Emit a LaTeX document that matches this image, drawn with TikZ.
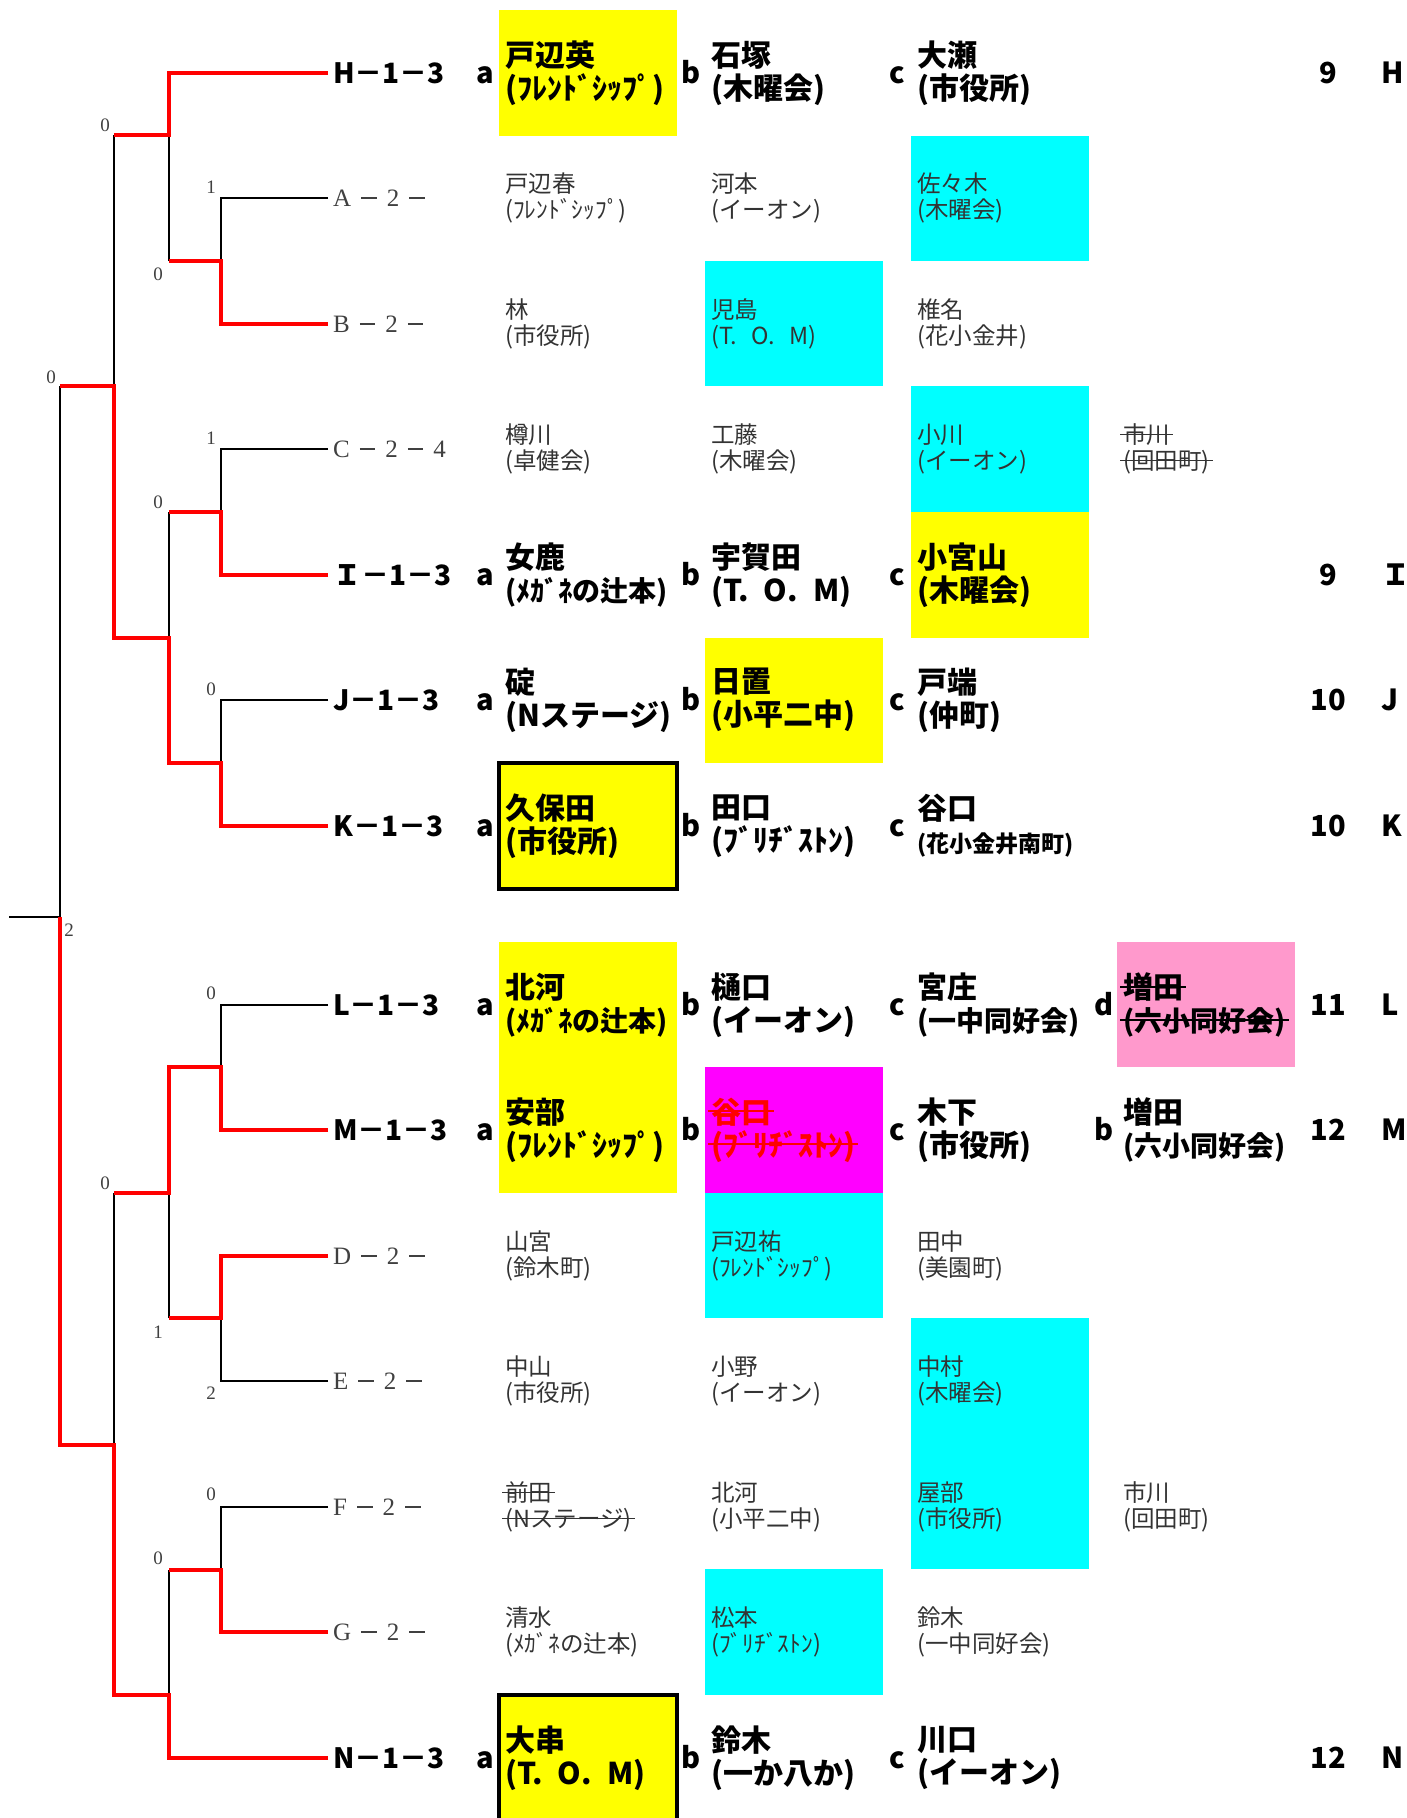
\documentclass[tikz,border=0pt]{standalone}
\usepackage{fontspec}
\setmainfont{Noto Sans CJK JP}
\newfontfamily\minfont{Liberation Serif}
\usepackage{xcolor}
\definecolor{yellowcell}{HTML}{FFFF00}
\definecolor{cyancell}{HTML}{00FFFF}
\definecolor{pinkcell}{HTML}{FF99CC}
\definecolor{magentacell}{HTML}{FF00FF}
\definecolor{winred}{HTML}{FF0000}
\newcommand\gap{\hspace{0.4em}}
\newcommand\dsh{\rule[0.3em]{0.62em}{1.2pt}}
\newcommand\tom[1]{(T.\hspace{#1}O.\hspace{#1}M)}
\newcommand\sm[1]{{\fontsize{28}{33}\selectfont #1}}
\newcommand\strike[2][1.5pt]{\setbox0=\hbox{#2}\rlap{\kern-3pt\rule[0.36em]{\dimexpr\wd0+6pt\relax}{#1}}\box0}
\tikzset{
  win/.style={draw=winred, line width=4.5pt},
  lose/.style={draw=black, line width=1.8pt},
  leafbold/.style={anchor=west, inner xsep=5pt, inner ysep=0pt, text height=20pt, text depth=0pt, font=\bfseries\fontsize{28}{30}\selectfont},
  leafthin/.style={anchor=west, inner xsep=5pt, inner ysep=0pt, text height=16pt, text depth=0pt, text=black!75, font=\minfont\fontsize{25}{27}\selectfont},
  bname/.style={anchor=west, align=left, inner sep=0pt, font=\bfseries\fontsize{30}{33}\selectfont},
  tname/.style={anchor=west, align=left, inner sep=0pt, text=black!80, font=\fontsize{23.5}{26}\selectfont},
  tag/.style={inner sep=0pt, text height=20pt, text depth=0pt, font=\bfseries\fontsize{29}{30}\selectfont},
  score/.style={inner sep=0pt, text=black!75, font=\minfont\fontsize{19}{20}\selectfont},
}
\begin{document}
\begin{tikzpicture}[x=1pt, y=-1pt]
\useasboundingbox (0,0) rectangle (1407,1818);
% coloured cells
\foreach \cc/\xa/\ya/\xb/\yb in {yellowcell/499/10/677/136, cyancell/911/136/1089/261, cyancell/705/261/883/386,
    cyancell/911/386/1089/512, yellowcell/911/512/1089/638, yellowcell/705/638/883/763, yellowcell/499/942/677/1193,
    pinkcell/1117/942/1295/1067, magentacell/705/1067/883/1193, cyancell/705/1193/883/1318,
    cyancell/911/1318/1089/1569, cyancell/705/1569/883/1695}
  \fill[\cc] (\xa,\ya) rectangle (\xb,\yb);
\draw[fill=yellowcell, line width=4pt] (499,763) rectangle (677,889);
\draw[fill=yellowcell, line width=4pt] (499,1695) rectangle (677,1821);

% leaves
\foreach \rw/\yy/\lb in {H/73/H, I/575/Ｉ, J/700/J, K/826/K, L/1005/L, M/1130/M, N/1758/N}
  \node[leafbold] (lab\rw) at (328,\yy) {{\lb}－1－3};
\foreach \rw/\yy/\lb in {A/198/A, B/324/B, D/1256/D, E/1381/E, F/1507/F, G/1632/G}
  \node[leafthin] (lab\rw) at (328,\yy) {\lb\gap\dsh\gap2\gap\dsh};
\node[leafthin] (labC) at (328,449) {C\gap\dsh\gap2\gap\dsh\gap4};

% junctions
\coordinate (jab) at (221,261);
\coordinate (jhab) at (169,135);
\coordinate (jtop) at (114,386);
\coordinate (jci) at (221,512);
\coordinate (jjk) at (221,763);
\coordinate (jcijk) at (169,638);
\coordinate (root) at (60,917);
\coordinate (rootend) at (9,917);
\coordinate (jlm) at (221,1067);
\coordinate (jde) at (221,1318);
\coordinate (jlmde) at (169,1193);
\coordinate (jfg) at (221,1570);
\coordinate (jfgn) at (169,1695);
\coordinate (jbot) at (114,1445);

\draw[lose] (labA.west) -| (jab);
\draw[lose] (jab -| jhab) -- (jhab);
\draw[lose] (jhab -| jtop) -- (jtop);
\draw[lose] (jtop -| root) -- (root) -- (rootend);
\draw[lose] (labC.west) -| (jci);
\draw[lose] (jci -| jcijk) -- (jcijk);
\draw[lose] (labJ.west) -| (jjk);
\draw[lose] (labL.west) -| (jlm);
\draw[lose] (labE.west) -| (jde);
\draw[lose] (jde -| jlmde) -- (jlmde);
\draw[lose] (jlmde -| jbot) -- (jbot);
\draw[lose] (labF.west) -| (jfg);
\draw[lose] (jfg -| jfgn) -- (jfgn);

\draw[win] (labB.west) -| (jab) -- (jab -| jhab);
\draw[win] (labH.west) -| (jhab) -- (jhab -| jtop);
\draw[win] (labI.west) -| (jci) -- (jci -| jcijk);
\draw[win] (labK.west) -| (jjk) -| (jcijk) -| (jtop) -- (jtop -| root);
\draw[win] (labM.west) -| (jlm) -| (jlmde) -- (jlmde -| jbot);
\draw[win] (labD.west) -| (jde) -- (jde -| jlmde);
\draw[win] (labG.west) -| (jfg) -- (jfg -| jfgn);
\draw[win] (labN.west) -| (jfgn) -| (jbot) -| (root);

\foreach \xx/\yy/\ss [count=\i] in {105/125/0, 211/187/1, 158/274/0, 51/377/0, 211/438/1, 158/502/0, 211/689/0,
    69/930/2, 211/993/0, 105/1183/0, 158/1332/1, 211/1393/2, 211/1494/0, 158/1558/0}
  \node[score] (sc\i) at (\xx,\yy) {\ss};

% a b c letters, games and courts
\foreach \rw/\yy in {H/73, I/575, J/700, K/826, L/1005, M/1130, N/1758} {
  \node[tag] (ta\rw) at (485,\yy) {a};
  \node[tag] (tb\rw) at (691,\yy) {b};
  \node[tag] (tc\rw) at (897,\yy) {c};
}
\node[tag] (tdL) at (1104,1005) {d};
\node[tag] (tdM) at (1104,1130) {b};
\foreach \rw/\yy/\nn/\lb in {H/73/9/H, I/575/9/Ｉ, J/700/10/J, K/826/10/K, L/1005/11/L, M/1130/12/M, N/1758/12/N} {
  \node[tag] (no\rw) at (1328,\yy) {\nn};
  \node[tag, anchor=west] (id\rw) at (1381,\yy) {\lb};
}

% row H
\node[bname] (aH) at (505,73) {戸辺英\\(ﾌﾚﾝﾄﾞｼｯﾌﾟ)};
\node[bname] (bH) at (711,73) {石塚\\(木曜会)};
\node[bname] (cH) at (917,73) {大瀬\\(市役所)};
% row A
\node[tname] (aA) at (505,198) {戸辺春\\(ﾌﾚﾝﾄﾞｼｯﾌﾟ)};
\node[tname] (bA) at (711,198) {河本\\(イーオン)};
\node[tname] (cA) at (917,198) {佐々木\\(木曜会)};
% row B
\node[tname] (aB) at (505,324) {林\\(市役所)};
\node[tname] (bB) at (711,324) {児島\\\tom{0.6em}};
\node[tname] (cB) at (917,324) {椎名\\(花小金井)};
% row C
\node[tname] (aC) at (505,449) {樽川\\(卓健会)};
\node[tname] (bC) at (711,449) {工藤\\(木曜会)};
\node[tname] (cC) at (917,449) {小川\\(イーオン)};
\node[tname] (dC) at (1123,449) {\strike{市川}\\\strike{(回田町)}};
% row I
\node[bname] (aI) at (505,575) {女鹿\\\sm{(ﾒｶﾞﾈの辻本)}};
\node[bname] (bI) at (711,575) {宇賀田\\\tom{0.5em}};
\node[bname] (cI) at (917,575) {小宮山\\(木曜会)};
% row J
\node[bname] (aJ) at (505,700) {碇\\(Nステージ)};
\node[bname] (bJ) at (711,700) {日置\\(小平二中)};
\node[bname] (cJ) at (917,700) {戸端\\(仲町)};
% row K
\node[bname] (aK) at (505,826) {久保田\\(市役所)};
\node[bname] (bK) at (711,826) {田口\\(ﾌﾞﾘﾁﾞｽﾄﾝ)};
\node[bname] (cK) at (917,826) {谷口\\{\fontsize{23}{33}\selectfont(花小金井南町)}};
% row L
\node[bname] (aL) at (505,1005) {北河\\\sm{(ﾒｶﾞﾈの辻本)}};
\node[bname] (bL) at (711,1005) {樋口\\(イーオン)};
\node[bname] (cL) at (917,1005) {宮庄\\\sm{(一中同好会)}};
\node[bname] (dL) at (1123,1005) {\strike[2pt]{増田}\\\sm{\strike[2pt]{(六小同好会)}}};
% row M
\node[bname] (aM) at (505,1130) {安部\\(ﾌﾚﾝﾄﾞｼｯﾌﾟ)};
\node[bname, text=winred] (bM) at (711,1130) {\strike[2pt]{谷口}\\\strike[2pt]{(ﾌﾞﾘﾁﾞｽﾄﾝ)}};
\node[bname] (cM) at (917,1130) {木下\\(市役所)};
\node[bname] (dM) at (1123,1130) {増田\\\sm{(六小同好会)}};
% row D
\node[tname] (aD) at (505,1256) {山宮\\(鈴木町)};
\node[tname] (bD) at (711,1256) {戸辺祐\\(ﾌﾚﾝﾄﾞｼｯﾌﾟ)};
\node[tname] (cD) at (917,1256) {田中\\(美園町)};
% row E
\node[tname] (aE) at (505,1381) {中山\\(市役所)};
\node[tname] (bE) at (711,1381) {小野\\(イーオン)};
\node[tname] (cE) at (917,1381) {中村\\(木曜会)};
% row F
\node[tname] (aF) at (505,1507) {\strike{前田}\\\strike{(Nステージ)}};
\node[tname] (bF) at (711,1507) {北河\\(小平二中)};
\node[tname] (cF) at (917,1507) {屋部\\(市役所)};
\node[tname] (dF) at (1123,1507) {市川\\(回田町)};
% row G
\node[tname] (aG) at (505,1632) {清水\\(ﾒｶﾞﾈの辻本)};
\node[tname] (bG) at (711,1632) {松本\\(ﾌﾞﾘﾁﾞｽﾄﾝ)};
\node[tname] (cG) at (917,1632) {鈴木\\(一中同好会)};
% row N
\node[bname] (aN) at (505,1758) {大串\\\tom{0.5em}};
\node[bname] (bN) at (711,1758) {鈴木\\(一か八か)};
\node[bname] (cN) at (917,1758) {川口\\(イーオン)};
\end{tikzpicture}
\end{document}
